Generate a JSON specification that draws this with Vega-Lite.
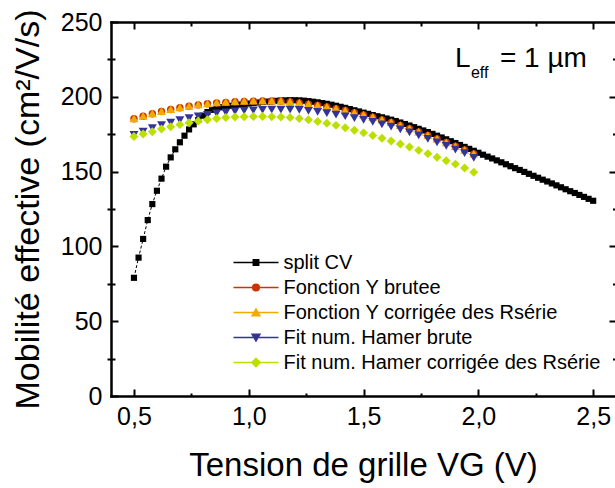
{
 "$schema": "https://vega.github.io/schema/vega-lite/v6.json",
 "width": 504,
 "height": 374,
 "autosize": {"type": "none"},
 "padding": {"left": 111, "top": 22, "right": 0, "bottom": 92},
 "background": "white",
 "config": {
  "view": {"stroke": null},
  "font": "Liberation Sans",
  "axis": {"grid": false, "domainColor": "black", "tickColor": "black", "labelColor": "black", "titleColor": "black", "labelFont": "Liberation Sans", "titleFont": "Liberation Sans", "titleFontWeight": "normal", "domainWidth": 2.5, "tickWidth": 2, "domainCap": "square", "labelFontSize": 25, "titleFontSize": 33, "labelOverlap": false, "labelFlush": false},
  "legend": {"title": null, "orient": "none", "legendX": 135, "legendY": 230.5, "direction": "vertical", "padding": 0, "symbolSize": 36, "symbolStrokeWidth": 1.5, "symbolOpacity": 1, "labelFontSize": 20, "labelFont": "Liberation Sans", "labelColor": "black", "labelOffset": 17.5, "rowPadding": 5, "labelLimit": 0}
 },
 "data": {"values": [
  {"s":"cv","x":0.50,"y":79.0},{"s":"cv","x":0.52,"y":92.5},{"s":"cv","x":0.54,"y":105.0},{"s":"cv","x":0.56,"y":117.6},{"s":"cv","x":0.58,"y":128.3},
  {"s":"cv","x":0.60,"y":137.2},{"s":"cv","x":0.62,"y":145.3},{"s":"cv","x":0.64,"y":153.3},{"s":"cv","x":0.66,"y":159.5},{"s":"cv","x":0.68,"y":164.9},
  {"s":"cv","x":0.70,"y":169.6},{"s":"cv","x":0.72,"y":174.0},{"s":"cv","x":0.74,"y":178.2},{"s":"cv","x":0.76,"y":181.6},{"s":"cv","x":0.78,"y":184.5},
  {"s":"cv","x":0.80,"y":187.4},{"s":"cv","x":0.82,"y":189.8},{"s":"cv","x":0.84,"y":191.3},{"s":"cv","x":0.86,"y":192.3},{"s":"cv","x":0.88,"y":193.0},
  {"s":"cv","x":0.90,"y":193.5},{"s":"cv","x":0.92,"y":194.0},{"s":"cv","x":0.94,"y":194.4},{"s":"cv","x":0.96,"y":194.8},{"s":"cv","x":0.98,"y":195.2},
  {"s":"cv","x":1.00,"y":195.5},{"s":"cv","x":1.02,"y":195.9},{"s":"cv","x":1.04,"y":196.2},{"s":"cv","x":1.06,"y":196.5},{"s":"cv","x":1.08,"y":196.8},
  {"s":"cv","x":1.10,"y":197.0},{"s":"cv","x":1.12,"y":197.3},{"s":"cv","x":1.14,"y":197.5},{"s":"cv","x":1.16,"y":197.6},{"s":"cv","x":1.18,"y":197.7},
  {"s":"cv","x":1.20,"y":197.7},{"s":"cv","x":1.22,"y":197.6},{"s":"cv","x":1.24,"y":197.4},{"s":"cv","x":1.26,"y":197.1},{"s":"cv","x":1.28,"y":196.7},
  {"s":"cv","x":1.30,"y":196.3},{"s":"cv","x":1.32,"y":195.8},{"s":"cv","x":1.34,"y":195.3},{"s":"cv","x":1.36,"y":194.7},{"s":"cv","x":1.38,"y":194.0},
  {"s":"cv","x":1.40,"y":193.3},{"s":"cv","x":1.42,"y":192.6},{"s":"cv","x":1.44,"y":191.8},{"s":"cv","x":1.46,"y":191.0},{"s":"cv","x":1.48,"y":190.2},
  {"s":"cv","x":1.50,"y":189.4},{"s":"cv","x":1.52,"y":188.6},{"s":"cv","x":1.54,"y":187.8},{"s":"cv","x":1.56,"y":187.0},{"s":"cv","x":1.58,"y":186.3},
  {"s":"cv","x":1.60,"y":185.5},{"s":"cv","x":1.62,"y":184.7},{"s":"cv","x":1.64,"y":183.8},{"s":"cv","x":1.66,"y":182.8},{"s":"cv","x":1.68,"y":181.8},
  {"s":"cv","x":1.70,"y":180.8},{"s":"cv","x":1.72,"y":179.7},{"s":"cv","x":1.74,"y":178.6},{"s":"cv","x":1.76,"y":177.5},{"s":"cv","x":1.78,"y":176.4},
  {"s":"cv","x":1.80,"y":175.2},{"s":"cv","x":1.82,"y":174.0},{"s":"cv","x":1.84,"y":172.8},{"s":"cv","x":1.86,"y":171.6},{"s":"cv","x":1.88,"y":170.3},
  {"s":"cv","x":1.90,"y":169.1},{"s":"cv","x":1.92,"y":167.8},{"s":"cv","x":1.94,"y":166.5},{"s":"cv","x":1.96,"y":165.2},{"s":"cv","x":1.98,"y":163.9},
  {"s":"cv","x":2.00,"y":162.6},{"s":"cv","x":2.02,"y":161.3},{"s":"cv","x":2.04,"y":160.0},{"s":"cv","x":2.06,"y":158.8},{"s":"cv","x":2.08,"y":157.5},
  {"s":"cv","x":2.10,"y":156.2},{"s":"cv","x":2.12,"y":154.9},{"s":"cv","x":2.14,"y":153.6},{"s":"cv","x":2.16,"y":152.3},{"s":"cv","x":2.18,"y":151.1},
  {"s":"cv","x":2.20,"y":149.8},{"s":"cv","x":2.22,"y":148.5},{"s":"cv","x":2.24,"y":147.2},{"s":"cv","x":2.26,"y":145.9},{"s":"cv","x":2.28,"y":144.6},
  {"s":"cv","x":2.30,"y":143.4},{"s":"cv","x":2.32,"y":142.1},{"s":"cv","x":2.34,"y":140.8},{"s":"cv","x":2.36,"y":139.5},{"s":"cv","x":2.38,"y":138.2},
  {"s":"cv","x":2.40,"y":136.9},{"s":"cv","x":2.42,"y":135.7},{"s":"cv","x":2.44,"y":134.4},{"s":"cv","x":2.46,"y":133.1},{"s":"cv","x":2.48,"y":131.8},
  {"s":"cv","x":2.50,"y":130.5},
  {"s":"yb","x":0.50,"y":185.3},{"s":"yb","x":0.54,"y":187.0},{"s":"yb","x":0.58,"y":188.7},{"s":"yb","x":0.62,"y":190.2},{"s":"yb","x":0.66,"y":191.5},
  {"s":"yb","x":0.70,"y":192.7},{"s":"yb","x":0.74,"y":193.7},{"s":"yb","x":0.78,"y":194.6},{"s":"yb","x":0.82,"y":195.3},{"s":"yb","x":0.86,"y":195.9},
  {"s":"yb","x":0.90,"y":196.3},{"s":"yb","x":0.94,"y":196.7},{"s":"yb","x":0.98,"y":196.9},{"s":"yb","x":1.02,"y":197.1},{"s":"yb","x":1.06,"y":197.2},
  {"s":"yb","x":1.10,"y":197.2},{"s":"yb","x":1.14,"y":197.0},{"s":"yb","x":1.18,"y":196.6},{"s":"yb","x":1.22,"y":195.9},{"s":"yb","x":1.26,"y":195.1},
  {"s":"yb","x":1.30,"y":194.2},{"s":"yb","x":1.34,"y":193.2},{"s":"yb","x":1.38,"y":192.1},{"s":"yb","x":1.42,"y":190.8},{"s":"yb","x":1.46,"y":189.4},
  {"s":"yb","x":1.50,"y":187.9},{"s":"yb","x":1.54,"y":186.3},{"s":"yb","x":1.58,"y":184.6},{"s":"yb","x":1.62,"y":182.8},{"s":"yb","x":1.66,"y":180.8},
  {"s":"yb","x":1.70,"y":178.7},{"s":"yb","x":1.74,"y":176.5},{"s":"yb","x":1.78,"y":174.2},{"s":"yb","x":1.82,"y":171.8},{"s":"yb","x":1.86,"y":169.4},
  {"s":"yb","x":1.90,"y":166.9},{"s":"yb","x":1.94,"y":164.4},{"s":"yb","x":1.98,"y":161.8},
  {"s":"yc","x":0.50,"y":185.5},{"s":"yc","x":0.54,"y":187.3},{"s":"yc","x":0.58,"y":189.0},{"s":"yc","x":0.62,"y":190.5},{"s":"yc","x":0.66,"y":191.8},
  {"s":"yc","x":0.70,"y":193.0},{"s":"yc","x":0.74,"y":194.0},{"s":"yc","x":0.78,"y":194.9},{"s":"yc","x":0.82,"y":195.6},{"s":"yc","x":0.86,"y":196.2},
  {"s":"yc","x":0.90,"y":196.6},{"s":"yc","x":0.94,"y":197.0},{"s":"yc","x":0.98,"y":197.2},{"s":"yc","x":1.02,"y":197.4},{"s":"yc","x":1.06,"y":197.5},
  {"s":"yc","x":1.10,"y":197.5},{"s":"yc","x":1.14,"y":197.3},{"s":"yc","x":1.18,"y":196.8},{"s":"yc","x":1.22,"y":196.1},{"s":"yc","x":1.26,"y":195.3},
  {"s":"yc","x":1.30,"y":194.4},{"s":"yc","x":1.34,"y":193.4},{"s":"yc","x":1.38,"y":192.3},{"s":"yc","x":1.42,"y":191.0},{"s":"yc","x":1.46,"y":189.6},
  {"s":"yc","x":1.50,"y":188.1},{"s":"yc","x":1.54,"y":186.5},{"s":"yc","x":1.58,"y":184.8},{"s":"yc","x":1.62,"y":183.0},{"s":"yc","x":1.66,"y":181.0},
  {"s":"yc","x":1.70,"y":178.9},{"s":"yc","x":1.74,"y":176.7},{"s":"yc","x":1.78,"y":174.4},{"s":"yc","x":1.82,"y":172.0},{"s":"yc","x":1.86,"y":169.6},
  {"s":"yc","x":1.90,"y":167.1},{"s":"yc","x":1.94,"y":164.6},{"s":"yc","x":1.98,"y":162.0},
  {"s":"hb","x":0.50,"y":174.5},{"s":"hb","x":0.54,"y":176.8},{"s":"hb","x":0.58,"y":179.0},{"s":"hb","x":0.62,"y":181.0},{"s":"hb","x":0.66,"y":182.8},
  {"s":"hb","x":0.70,"y":184.4},{"s":"hb","x":0.74,"y":185.8},{"s":"hb","x":0.78,"y":187.0},{"s":"hb","x":0.82,"y":188.0},{"s":"hb","x":0.86,"y":188.9},
  {"s":"hb","x":0.90,"y":189.6},{"s":"hb","x":0.94,"y":190.2},{"s":"hb","x":0.98,"y":190.7},{"s":"hb","x":1.02,"y":191.0},{"s":"hb","x":1.06,"y":191.3},
  {"s":"hb","x":1.10,"y":191.4},{"s":"hb","x":1.14,"y":191.5},{"s":"hb","x":1.18,"y":191.4},{"s":"hb","x":1.22,"y":191.2},{"s":"hb","x":1.26,"y":190.6},
  {"s":"hb","x":1.30,"y":189.9},{"s":"hb","x":1.34,"y":189.1},{"s":"hb","x":1.38,"y":188.1},{"s":"hb","x":1.42,"y":187.0},{"s":"hb","x":1.46,"y":185.8},
  {"s":"hb","x":1.50,"y":184.6},{"s":"hb","x":1.54,"y":183.2},{"s":"hb","x":1.58,"y":181.6},{"s":"hb","x":1.62,"y":180.0},{"s":"hb","x":1.66,"y":178.2},
  {"s":"hb","x":1.70,"y":176.2},{"s":"hb","x":1.74,"y":174.2},{"s":"hb","x":1.78,"y":171.9},{"s":"hb","x":1.82,"y":169.5},{"s":"hb","x":1.86,"y":167.2},
  {"s":"hb","x":1.90,"y":164.7},{"s":"hb","x":1.94,"y":162.3},{"s":"hb","x":1.98,"y":159.2},
  {"s":"hc","x":0.50,"y":173.4},{"s":"hc","x":0.54,"y":175.1},{"s":"hc","x":0.58,"y":176.7},{"s":"hc","x":0.62,"y":178.5},{"s":"hc","x":0.66,"y":180.0},
  {"s":"hc","x":0.70,"y":181.4},{"s":"hc","x":0.74,"y":182.7},{"s":"hc","x":0.78,"y":183.8},{"s":"hc","x":0.82,"y":184.7},{"s":"hc","x":0.86,"y":185.5},
  {"s":"hc","x":0.90,"y":186.1},{"s":"hc","x":0.94,"y":186.5},{"s":"hc","x":0.98,"y":186.7},{"s":"hc","x":1.02,"y":186.8},{"s":"hc","x":1.06,"y":186.8},
  {"s":"hc","x":1.10,"y":186.7},{"s":"hc","x":1.14,"y":186.5},{"s":"hc","x":1.18,"y":186.1},{"s":"hc","x":1.22,"y":185.5},{"s":"hc","x":1.26,"y":184.6},
  {"s":"hc","x":1.30,"y":183.5},{"s":"hc","x":1.34,"y":182.3},{"s":"hc","x":1.38,"y":180.9},{"s":"hc","x":1.42,"y":179.3},{"s":"hc","x":1.46,"y":177.6},
  {"s":"hc","x":1.50,"y":175.9},{"s":"hc","x":1.54,"y":174.1},{"s":"hc","x":1.58,"y":172.3},{"s":"hc","x":1.62,"y":170.4},{"s":"hc","x":1.66,"y":168.4},
  {"s":"hc","x":1.70,"y":166.4},{"s":"hc","x":1.74,"y":164.2},{"s":"hc","x":1.78,"y":162.0},{"s":"hc","x":1.82,"y":159.6},{"s":"hc","x":1.86,"y":157.3},
  {"s":"hc","x":1.90,"y":155.0},{"s":"hc","x":1.94,"y":152.4},{"s":"hc","x":1.98,"y":149.6}
 ]},
 "layer": [
  {
   "encoding": {
    "x": {"field": "x", "type": "quantitative", "scale": {"domain": [0.4, 2.595], "nice": false, "zero": false},
          "axis": {"orient": "bottom", "values": [0.5, 1, 1.5, 2, 2.5], "labelExpr": "replace(format(datum.value, '.1f'), '.', ',')", "tickSize": -7, "labelPadding": 15, "title": "Tension de grille VG (V)", "titlePadding": 20}},
    "y": {"field": "y", "type": "quantitative", "scale": {"domain": [0, 250], "nice": false, "zero": false},
          "axis": {"orient": "left", "values": [0, 50, 100, 150, 200, 250], "tickSize": -7, "labelPadding": 16, "title": "Mobilité effective (cm²/V/s)", "titleFontSize": 34, "titlePadding": 15}}
   },
   "layer": [
    {
     "transform": [{"filter": "datum.s === 'cv'"}],
     "mark": {"type": "line", "color": "black", "strokeWidth": 1, "strokeDash": [3, 2]}
    },
    {
     "transform": [{"filter": "datum.s === 'cv'"}],
     "mark": {"type": "point", "filled": true, "opacity": 1, "strokeWidth": 0, "shape": "square", "size": 38, "color": "#000000"}
    },
    {
     "transform": [{"filter": "datum.s === 'yb'"}],
     "mark": {"type": "point", "filled": true, "opacity": 1, "strokeWidth": 0, "shape": "circle", "size": 55, "color": "#cc3300"}
    },
    {
     "transform": [{"filter": "datum.s === 'yc'"}],
     "mark": {"type": "point", "filled": true, "opacity": 1, "strokeWidth": 0, "shape": "triangle-up", "size": 80, "color": "#f0aa00"}
    },
    {
     "transform": [{"filter": "datum.s === 'hb'"}],
     "mark": {"type": "point", "filled": true, "opacity": 1, "strokeWidth": 0, "shape": "triangle-down", "size": 80, "color": "#333399"}
    },
    {
     "transform": [{"filter": "datum.s === 'hc'"}],
     "mark": {"type": "point", "filled": true, "opacity": 1, "strokeWidth": 0, "shape": "diamond", "size": 80, "color": "#bbe000"}
    },
    {
     "mark": {"type": "point", "filled": true, "opacity": 0, "size": 36},
     "encoding": {
      "fill": {"field": "s", "type": "nominal",
               "scale": {"domain": ["cv", "yb", "yc", "hb", "hc"], "range": ["#000000", "#cc3300", "#f0aa00", "#333399", "#bbe000"]},
               "legend": {"labelExpr": "datum.value === 'cv' ? 'split CV' : datum.value === 'yb' ? 'Fonction Y brutee' : datum.value === 'yc' ? 'Fonction Y corrigée des Rsérie' : datum.value === 'hb' ? 'Fit num. Hamer brute' : 'Fit num. Hamer corrigée des Rsérie'"}},
      "stroke": {"field": "s", "type": "nominal",
               "scale": {"domain": ["cv", "yb", "yc", "hb", "hc"], "range": ["#000000", "#cc3300", "#f0aa00", "#333399", "#bbe000"]},
               "legend": {"labelExpr": "datum.value === 'cv' ? 'split CV' : datum.value === 'yb' ? 'Fonction Y brutee' : datum.value === 'yc' ? 'Fonction Y corrigée des Rsérie' : datum.value === 'hb' ? 'Fit num. Hamer brute' : 'Fit num. Hamer corrigée des Rsérie'"}},
      "shape": {"field": "s", "type": "nominal",
               "scale": {"domain": ["cv", "yb", "yc", "hb", "hc"], "range": [
                 "M-7.5,0L7.5,0M-0.9,-0.9L0.9,-0.9L0.9,0.9L-0.9,0.9Z",
                 "M-7.5,0L7.5,0M1.1,0A1.1,1.1,0,1,1,-1.1,0A1.1,1.1,0,1,1,1.1,0Z",
                 "M-7.5,0L7.5,0M0,-1.15L1.3,1.1L-1.3,1.1Z",
                 "M-7.5,0L7.5,0M0,1.15L1.3,-1.1L-1.3,-1.1Z",
                 "M-7.5,0L7.5,0M0,-1.4L1.4,0L0,1.4L-1.4,0Z"]},
               "legend": {"labelExpr": "datum.value === 'cv' ? 'split CV' : datum.value === 'yb' ? 'Fonction Y brutee' : datum.value === 'yc' ? 'Fonction Y corrigée des Rsérie' : datum.value === 'hb' ? 'Fit num. Hamer brute' : 'Fit num. Hamer corrigée des Rsérie'"}}
     }
    }
   ]
  },
  {
   "data": {"values": [{}]},
   "mark": {"type": "text", "text": "L", "fontSize": 28, "align": "left", "baseline": "alphabetic", "font": "Liberation Sans", "color": "black"},
   "encoding": {
    "x": {"datum": 1.898, "type": "quantitative", "scale": {"domain": [0.4, 2.595], "nice": false, "zero": false},
          "axis": {"orient": "top", "values": [0.5, 1, 1.5, 2, 2.5], "labels": false, "tickSize": -7, "title": null}},
    "y": {"datum": 220.1, "type": "quantitative", "scale": {"domain": [0, 250], "nice": false, "zero": false},
          "axis": {"orient": "right", "values": [50, 100, 150, 200], "labels": false, "domain": false, "tickSize": -6, "title": null}}
   }
  },
  {
   "data": {"values": [{}]},
   "mark": {"type": "text", "text": "eff", "fontSize": 16, "align": "left", "baseline": "alphabetic", "dx": 16, "dy": 11, "font": "Liberation Sans", "color": "black"},
   "encoding": {
    "x": {"datum": 1.898, "type": "quantitative", "scale": {"domain": [0.4, 2.595], "nice": false, "zero": false},
          "axis": {"orient": "bottom", "values": [0.75, 1.25, 1.75, 2.25], "labels": false, "domain": false, "tickSize": -3, "title": null}},
    "y": {"datum": 220.1, "type": "quantitative", "scale": {"domain": [0, 250], "nice": false, "zero": false},
          "axis": {"orient": "left", "values": [25, 75, 125, 175, 225], "labels": false, "domain": false, "tickSize": 8, "offset": -4, "title": null}}
   }
  },
  {
   "data": {"values": [{}]},
   "mark": {"type": "text", "text": "= 1 µm", "fontSize": 28, "align": "left", "baseline": "alphabetic", "dx": 45, "font": "Liberation Sans", "color": "black"},
   "encoding": {
    "x": {"datum": 1.898, "type": "quantitative", "scale": {"domain": [0.4, 2.595], "nice": false, "zero": false},
          "axis": {"orient": "top", "values": [0.75, 1.25, 1.75, 2.25], "labels": false, "domain": false, "tickSize": -4, "title": null}},
    "y": {"datum": 220.1, "type": "quantitative", "scale": {"domain": [0, 250], "nice": false, "zero": false},
          "axis": {"orient": "right", "values": [25, 75, 125, 175, 225], "labels": false, "domain": false, "tickSize": -2.5, "title": null}}
   }
  }
 ],
 "resolve": {"scale": {"x": "independent", "y": "independent"}, "axis": {"x": "independent", "y": "independent"}}
}
